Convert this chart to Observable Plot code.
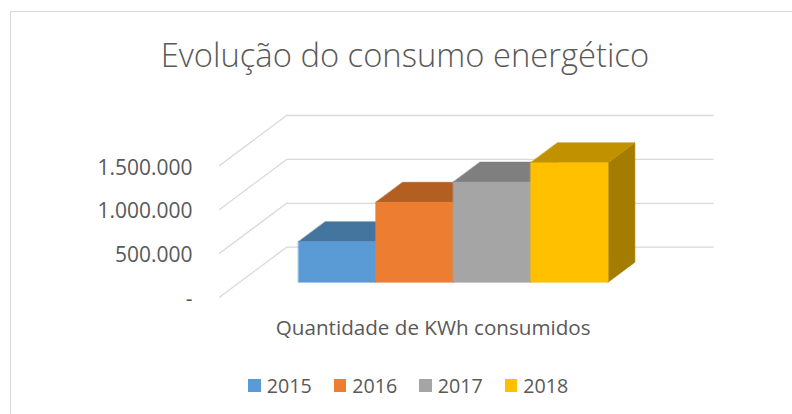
<!DOCTYPE html>
<html>
<head>
<meta charset="utf-8">
<script src="https://cdn.jsdelivr.net/npm/d3@7"></script>
<script src="https://cdn.jsdelivr.net/npm/@observablehq/plot@0.6"></script>
<style>
  body { margin: 0; background: #fff; }
  #chart { position: relative; width: 792px; height: 414px; overflow: hidden; background: #fff;
           font-family: "Open Sans", sans-serif; color: #595959; }
  #border { position: absolute; left: 10px; top: 11px; width: 900px; height: 600px;
            border-left: 1.5px solid #d9d9d9; border-top: 1.5px solid #d9d9d9; box-sizing: border-box; }
  #plot { position: absolute; left: 0; top: 0; }
  #title { position: absolute; white-space: nowrap; line-height: 1; font-weight: 300; }
  #legend { position: absolute; display: flex; align-items: center; line-height: 1; white-space: nowrap; }
  .item { display: flex; align-items: center; margin-right: 22px; }
  .sw { width: 12.5px; height: 12.5px; margin-right: 6px; }
</style>
</head>
<body>
<div id="chart">
  <div id="border"></div>
  <div id="plot"></div>
  <div id="title"></div>
  <div id="legend"></div>
</div>
<script>
// ---- data ----
const titleText = "Evolução do consumo energético";
const categoryLabel = "Quantidade de KWh consumidos";
const years = ["2015", "2016", "2017", "2018"];
const values = [460000, 910000, 1140000, 1360000];
const frontColors = ["#5B9BD5", "#ED7D31", "#A5A5A5", "#FFC000"];
const topColors = ["#44759F", "#B45F22", "#7F7F7F", "#C29100"];
const sideColors = ["#3A6489", "#9B521D", "#6E6E6E", "#A47C00"];
const yTicks = [0, 500000, 1000000, 1500000];

// ---- layout ----
const W = 792, H = 414;
const X0 = 277.9, UNIT = 77.4;          // screen x of category origin (front plane), px per bar
const Y0 = 296.7, PXV = 43.9 / 500000;  // screen y of zero (front plane), px per value unit
const DEPTH_X = 67 / UNIT, DEPTH_Y = 50 / PXV; // oblique depth offset in data units (depth 0..1)
const uLeft = -0.76, uRight = 4.75;
const d0 = 0.3, d1 = 0.7;               // bar front/back depth
const proj = (u, v, d) => ({x: u + d * DEPTH_X, y: v + d * DEPTH_Y});
const fam = "'Open Sans', sans-serif";
const ctx = document.createElement("canvas").getContext("2d");
function fit(text, weight, target) { ctx.font = `${weight} 100px ${fam}`; return 100 * target / ctx.measureText(text).width; }

const fsTitle = fit(titleText, 300, 488.6);
const fsTick = fit("1.500.000", 400, 95);
const fsCat = fit(categoryLabel, 400, 315);
const fsLeg = fit("2015", 400, 45);

// gridlines: left wall diagonal + back wall horizontal
const grid = yTicks.flatMap(v => [proj(uLeft, v, 0), proj(uLeft, v, 1), proj(uRight, v, 1)].map(p => ({...p, tick: v})));

// bar faces (painter's order, left to right)
const faces = [];
values.forEach((v, i) => {
  const add = (name, fill, pts) => pts.forEach(p => faces.push({...p, face: `${i}-${name}`, fill}));
  add("side", sideColors[i], [proj(i + 1, 0, d0), proj(i + 1, 0, d1), proj(i + 1, v, d1), proj(i + 1, v, d0)]);
  add("top", topColors[i], [proj(i, v, d0), proj(i + 1, v, d0), proj(i + 1, v, d1), proj(i, v, d1)]);
  add("front", frontColors[i], [proj(i, 0, d0), proj(i + 1, 0, d0), proj(i + 1, v, d0), proj(i, v, d0)]);
});

const fmt = v => v === 0 ? "-" : d3.format(",")(v).replace(/,/g, ".");

const plot = Plot.plot({
  width: W, height: H,
  margin: 0,
  x: {type: "linear", domain: [-1, 6], range: [X0 - UNIT, X0 + 6 * UNIT], axis: null},
  y: {type: "linear", domain: [0, 2000000], range: [Y0, Y0 - 2000000 * PXV], axis: null},
  color: {type: "identity"},
  style: {background: "transparent", overflow: "visible"},
  marks: [
    Plot.line(grid, {x: "x", y: "y", z: "tick", stroke: "#d9d9d9", strokeWidth: 1.3}),
    Plot.line(faces, {x: "x", y: "y", z: "face", fill: "fill", stroke: "fill", strokeWidth: 0.6, curve: "linear-closed"}),
    Plot.text(yTicks, {x: uLeft, y: d => d, text: fmt, textAnchor: "end", dx: -27, dy: 2.3,
                       fontSize: fsTick, fill: "#595959", fontFamily: fam}),
    Plot.text([categoryLabel], {x: 2, y: 0, text: d => d, dy: 31, fontSize: fsCat, fill: "#595959", fontFamily: fam})
  ]
});
document.getElementById("plot").appendChild(plot);

// title
const t = document.getElementById("title");
t.textContent = titleText;
t.style.fontSize = fsTitle + "px";
t.style.left = (405 - 488.6 / 2) + "px";
t.style.top = (67.7 - 0.888 * fsTitle) + "px";

// legend
const lg = document.getElementById("legend");
lg.style.fontSize = fsLeg + "px";
lg.style.left = "248.3px";
lg.style.top = (385.5 - fsLeg / 2) + "px";
lg.style.height = fsLeg + "px";
years.forEach((y, i) => {
  const it = document.createElement("div"); it.className = "item";
  const sw = document.createElement("div"); sw.className = "sw"; sw.style.background = frontColors[i];
  const tx = document.createElement("span"); tx.textContent = y;
  it.appendChild(sw); it.appendChild(tx); lg.appendChild(it);
});
</script>
</body>
</html>
